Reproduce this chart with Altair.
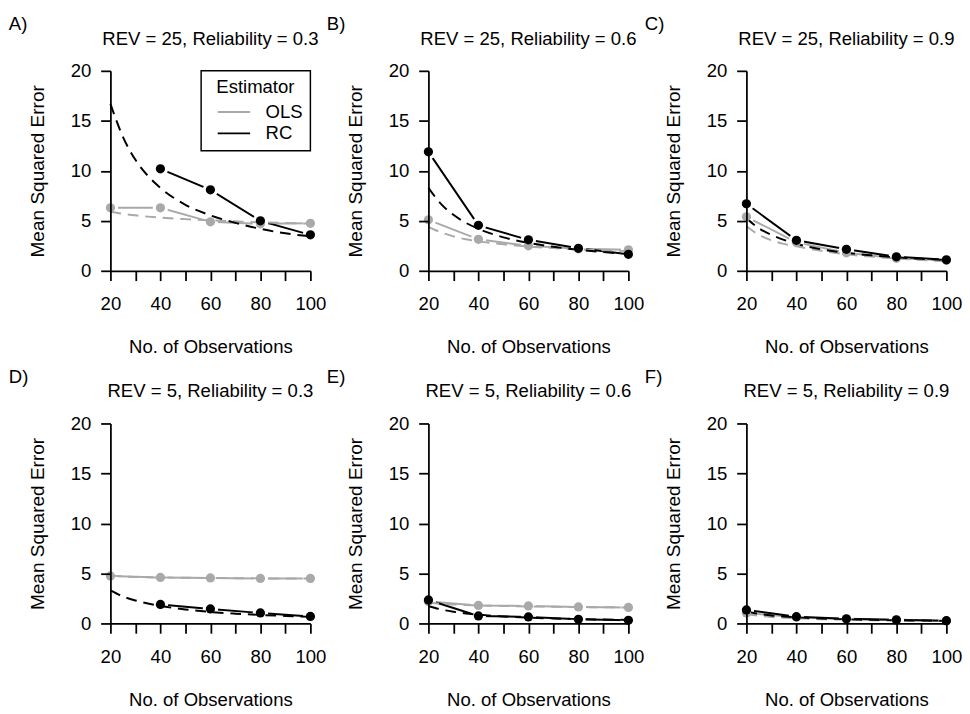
import altair as alt
import pandas as pd

FONT = "Liberation Sans"
FS = 19
GRAY = "#a9a9a9"

# x positions of simulated results and of the theoretical (dashed) curves
N_OBS = [20, 40, 60, 80, 100]
CURVE_N = [20, 25, 30, 35, 40, 50, 60, 70, 80, 90, 100]

PANEL_KEYS = ["A", "B", "C", "D", "E", "F"]
PANEL_TITLES = [
    "REV = 25, Reliability = 0.3",
    "REV = 25, Reliability = 0.6",
    "REV = 25, Reliability = 0.9",
    "REV = 5, Reliability = 0.3",
    "REV = 5, Reliability = 0.6",
    "REV = 5, Reliability = 0.9",
]

# simulated MSE (solid lines with points); None = not shown
A_SIM_OLS = [6.3, 6.3, 4.9, 4.7, 4.75]
A_SIM_RC = [None, 10.2, 8.1, 5.0, 3.6]
B_SIM_OLS = [5.1, 3.15, 2.5, 2.2, 2.1]
B_SIM_RC = [11.9, 4.55, 3.1, 2.25, 1.65]
C_SIM_OLS = [5.4, 2.85, 1.8, 1.25, 1.05]
C_SIM_RC = [6.7, 3.05, 2.15, 1.4, 1.1]
D_SIM_OLS = [4.75, 4.6, 4.55, 4.5, 4.5]
D_SIM_RC = [None, 1.9, 1.45, 1.05, 0.7]
E_SIM_OLS = [2.2, 1.8, 1.75, 1.65, 1.6]
E_SIM_RC = [2.35, 0.75, 0.65, 0.42, 0.32]
F_SIM_OLS = [1.05, 0.62, 0.42, 0.33, 0.26]
F_SIM_RC = [1.35, 0.68, 0.47, 0.37, 0.28]

# theoretical MSE (dashed curves), read at CURVE_N
A_TH_OLS = [5.9, 5.7, 5.55, 5.42, 5.32, 5.17, 5.05, 4.95, 4.85, 4.78, 4.72]
A_TH_RC = [16.7, 13.4, 11.1, 9.5, 8.3, 6.6, 5.55, 4.8, 4.2, 3.75, 3.45]
B_TH_OLS = [4.4, 3.85, 3.45, 3.15, 2.95, 2.65, 2.42, 2.27, 2.15, 2.05, 1.98]
B_TH_RC = [8.3, 6.7, 5.6, 4.8, 4.2, 3.35, 2.8, 2.4, 2.1, 1.87, 1.68]
C_TH_OLS = [4.45, 3.6, 3.05, 2.7, 2.45, 2.0, 1.65, 1.42, 1.23, 1.08, 0.95]
C_TH_RC = [5.25, 4.25, 3.6, 3.1, 2.7, 2.15, 1.8, 1.55, 1.35, 1.2, 1.08]
D_TH_OLS = [4.8, 4.7, 4.65, 4.62, 4.6, 4.57, 4.55, 4.53, 4.51, 4.5, 4.49]
D_TH_RC = [3.3, 2.7, 2.3, 2.0, 1.75, 1.4, 1.15, 0.98, 0.85, 0.75, 0.66]
E_TH_OLS = [2.1, 1.98, 1.9, 1.85, 1.8, 1.75, 1.7, 1.67, 1.64, 1.62, 1.6]
E_TH_RC = [1.75, 1.4, 1.17, 1.0, 0.88, 0.7, 0.58, 0.5, 0.44, 0.39, 0.35]
F_TH_OLS = [0.95, 0.77, 0.65, 0.58, 0.52, 0.43, 0.37, 0.33, 0.29, 0.26, 0.24]
F_TH_RC = [1.2, 0.97, 0.8, 0.7, 0.62, 0.5, 0.42, 0.36, 0.32, 0.29, 0.26]

SIM = {
    "A": (A_SIM_OLS, A_SIM_RC), "B": (B_SIM_OLS, B_SIM_RC), "C": (C_SIM_OLS, C_SIM_RC),
    "D": (D_SIM_OLS, D_SIM_RC), "E": (E_SIM_OLS, E_SIM_RC), "F": (F_SIM_OLS, F_SIM_RC),
}
TH = {
    "A": (A_TH_OLS, A_TH_RC), "B": (B_TH_OLS, B_TH_RC), "C": (C_TH_OLS, C_TH_RC),
    "D": (D_TH_OLS, D_TH_RC), "E": (E_TH_OLS, E_TH_RC), "F": (F_TH_OLS, F_TH_RC),
}


def sim_frame(key):
    rows = []
    for est, vals in zip(["OLS", "RC"], SIM[key]):
        for n, v in zip(N_OBS, vals):
            if v is not None:
                rows.append({"n": n, "mse": v, "estimator": est})
    return pd.DataFrame(rows)


def th_frame(key):
    rows = []
    for est, vals in zip(["OLS", "RC"], TH[key]):
        for n, v in zip(CURVE_N, vals):
            rows.append({"n": n, "mse": v, "estimator": est})
    return pd.DataFrame(rows)


color_scale = alt.Scale(domain=["OLS", "RC"], range=[GRAY, "#000000"])
x_axis = alt.Axis(
    title="No. of Observations",
    values=[20, 30, 40, 50, 60, 70, 80, 90, 100],
    labelExpr="datum.value % 20 === 0 ? datum.label : ''",
    labelPadding=15, titlePadding=25, labelFlush=False, labelOverlap=False, zindex=1,
)
y_axis = alt.Axis(
    title="Mean Squared Error",
    values=[0, 5, 10, 15, 20],
    labelPadding=10, titlePadding=23, titleFontSize=19.5,
    labelFlush=False, labelOverlap=False, zindex=1,
)

legend_a = alt.Legend(
    title="Estimator", orient="top-right", offset=0,
    strokeColor="black", fillColor="white", padding=7.6,
    symbolType="M-1.75,0H1.75", symbolSize=361, symbolStrokeWidth=2,
    symbolOffset=15.5, labelOffset=22, labelFontSize=FS, titleFontSize=FS,
    titleFontWeight="normal", titleAnchor="middle", titlePadding=5,
    rowPadding=1, labelFont=FONT, titleFont=FONT,
    labelColor="black", titleColor="black",
)


def panel(i, key):
    x = alt.X("n:Q", scale=alt.Scale(domain=[20, 100], nice=False, zero=False), axis=x_axis)
    y = alt.Y("mse:Q", scale=alt.Scale(domain=[0, 20], nice=False, zero=False), axis=y_axis)
    if key == "A":
        color = alt.Color("estimator:N", scale=color_scale, legend=legend_a)
    else:
        color = alt.Color("estimator:N", scale=color_scale, legend=None)
    sim = sim_frame(key)
    solid = alt.Chart(sim).mark_line(strokeWidth=2).encode(x=x, y=y, color=color)
    halo = alt.Chart(sim).mark_circle(size=250, opacity=1, color="white").encode(x=x, y=y)
    dashed = alt.Chart(th_frame(key)).mark_line(
        strokeDash=[11, 7], strokeWidth=2, interpolate="monotone"
    ).encode(x=x, y=y, color=color)
    pts = alt.Chart(sim).mark_circle(size=90, opacity=1).encode(x=x, y=y, color=color)
    layered = alt.layer(solid, halo, dashed, pts).properties(
        width=205, height=205,
        title=alt.TitleParams(PANEL_TITLES[i], offset=14, anchor="middle"),
    )
    return alt.vconcat(layered).properties(
        title=alt.TitleParams(key + ")", anchor="start", frame="bounds", dx=-20, offset=-4)
    ).resolve_scale(color="independent")


panels = [panel(i, k) for i, k in enumerate(PANEL_KEYS)]
row1 = alt.hconcat(*panels[:3], spacing=0).resolve_scale(color="independent")
row2 = alt.hconcat(*panels[3:], spacing=0).resolve_scale(color="independent")

chart = alt.vconcat(row1, row2, spacing=11.5).resolve_scale(color="independent").properties(
    padding={"left": 0, "top": -1.5, "right": 0, "bottom": 0}
).configure_view(stroke=None).configure_axis(
    grid=False, domainColor="black", tickColor="black", labelColor="black", titleColor="black",
    domainWidth=1.8, tickWidth=1.8, tickSize=10,
    labelFont=FONT, titleFont=FONT, labelFontSize=FS, titleFontSize=FS, titleFontWeight="normal",
).configure_title(
    font=FONT, fontSize=FS, fontWeight="normal", color="black"
).configure_legend(strokeWidth=1.5, strokeColor="black", fillColor="white")

chart.save("out.html", embed_options={"renderer": "svg", "actions": False})
